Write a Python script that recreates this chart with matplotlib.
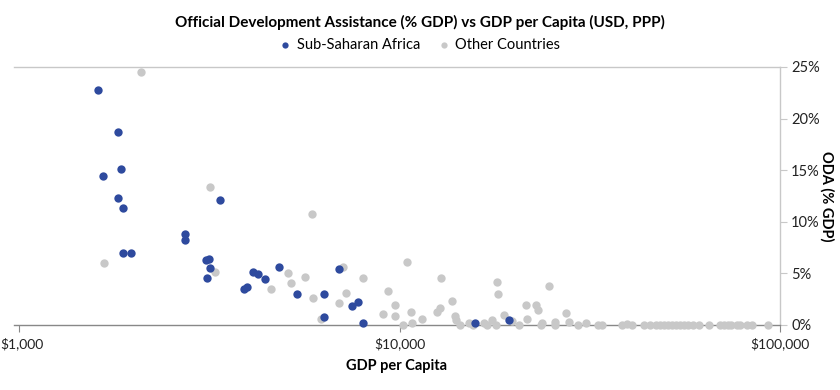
import matplotlib.pyplot as plt
import matplotlib.transforms as mtransforms
from matplotlib.ticker import FuncFormatter

plt.rcParams['font.family'] = ['Lato', 'DejaVu Sans']

# Sub-Saharan Africa: GDP per capita (USD, PPP), ODA (% GDP)
ssa_gdp = [1615, 1823, 1853, 1662, 1823, 1872, 3370, 2730, 2730, 1875, 1973,
           3096, 3150, 3167, 3113, 3900, 3985, 4130, 4255, 4432, 4830, 5370,
           6325, 6325, 6950, 7480, 7795, 8040, 15830, 19450]
ssa_oda = [22.8, 18.7, 15.1, 14.4, 12.3, 11.3, 12.1, 8.8, 8.2, 7.0, 7.0,
           6.3, 6.4, 5.5, 4.6, 3.5, 3.7, 5.1, 4.9, 4.5, 5.6, 3.0,
           3.0, 0.8, 5.4, 1.8, 2.2, 0.2, 0.2, 0.5]

# Other countries
oth_gdp = [2090, 3170, 5900, 1675, 3265, 4605, 5090, 5185, 5630, 5920, 6210,
           7115, 7215, 6950, 8040, 9060, 9330, 9740, 9750, 10190, 10480, 10730,
           10760, 11470, 12560, 12760, 12860, 13710, 13960, 14100, 14450, 15210,
           15620, 16720, 17030, 17510, 17940, 18050, 18100, 18790, 19770, 20610,
           21460, 21600, 22890, 23080, 23550, 23740, 24720, 25630, 25630, 27430,
           27930, 29380, 30830, 33150, 34110, 38450, 39590, 40880, 43950, 45600,
           47270, 48420, 49610, 50820, 52070, 53330, 54640, 55970, 57350, 59020,
           61400, 65250, 69570, 71270, 73030, 74320, 76920, 78520, 81760, 84280,
           93000]
oth_oda = [24.5, 13.4, 10.8, 6.0, 5.1, 3.5, 5.0, 4.1, 4.65, 2.6, 0.6,
           5.6, 3.1, 2.1, 4.6, 1.07, 3.3, 1.9, 0.84, 0.0, 6.1, 1.26,
           0.22, 0.55, 1.3, 1.6, 4.6, 2.35, 0.87, 0.48, 0.03, 0.2,
           0.0, 0.2, 0.0, 0.48, 0.0, 4.2, 3.0, 0.97, 0.42, 0.0,
           1.9, 0.55, 1.9, 1.5, 0.0, 0.2, 3.8, 0.0, 0.3, 1.13,
           0.3, 0.0, 0.2, 0.0, 0.0, 0.0, 0.13, 0.0, 0.0, 0.0,
           0.0, 0.0, 0.0, 0.0, 0.0, 0.0, 0.0, 0.0, 0.0, 0.0,
           0.0, 0.0, 0.0, 0.0, 0.0, 0.0, 0.0, 0.0, 0.0, 0.0,
           0.0]

blue = '#2e4a9e'
grey = '#c8c8c8'

fig = plt.figure(figsize=(8.4, 3.9), dpi=100)
ax = fig.add_axes([14 / 840, 65 / 390, 766 / 840, 258 / 390])

ax.scatter(oth_gdp, oth_oda, s=36, color=grey, linewidths=0, clip_on=False, zorder=3,
           label='Other Countries')
ax.scatter(ssa_gdp, ssa_oda, s=36, color=blue, linewidths=0, clip_on=False, zorder=4,
           label='Sub-Saharan Africa')

ax.set_xscale('log')
ax.set_xlim(970, 100000)
ax.set_ylim(0, 25)
ax.set_xticks([1000, 10000, 100000])
ax.set_xticks([], minor=True)
ax.xaxis.set_major_formatter(FuncFormatter(lambda v, p: '${:,.0f}'.format(v)))
ax.set_yticks([0, 5, 10, 15, 20, 25])
ax.yaxis.set_major_formatter(FuncFormatter(lambda v, p: '{:.0f}%'.format(v)))
ax.yaxis.tick_right()
ax.yaxis.set_label_position('right')

ax.spines['left'].set_visible(False)
ax.spines['top'].set_color('#c8c8c8')
ax.spines['right'].set_color('#c8c8c8')
ax.spines['bottom'].set_color('#888888')
for s in ax.spines.values():
    s.set_linewidth(1)
ax.tick_params(axis='x', colors='#888888', length=5, labelcolor='#222222', labelsize=10, pad=4)
ax.tick_params(axis='y', colors='#c8c8c8', length=5, labelcolor='#222222', labelsize=10.5, pad=3)

# nudge "$1,000" right so it is not cut at the figure edge
first = ax.xaxis.get_majorticklabels()[0]
first.set_transform(first.get_transform() + mtransforms.ScaledTranslation(0.03, 0, fig.dpi_scale_trans))

ax.set_xlabel('GDP per Capita', fontsize=10.5, fontweight='bold', labelpad=6)
ax.set_ylabel('ODA (% GDP)', fontsize=10.5, fontweight='bold', rotation=-90, labelpad=10)

fig.text(0.5, 1 - 22 / 390, 'Official Development Assistance (% GDP) vs GDP per Capita (USD, PPP)',
         ha='center', va='center', fontsize=11, fontweight='bold')
handles, labels = ax.get_legend_handles_labels()
fig.legend(handles[::-1], labels[::-1], loc='center', bbox_to_anchor=(0.5, 1 - 45 / 390),
           ncol=2, frameon=False, fontsize=10.5, handlelength=0.8, handletextpad=0.4,
           columnspacing=1.2, markerscale=0.75)

fig.savefig('out.png', dpi=100)
